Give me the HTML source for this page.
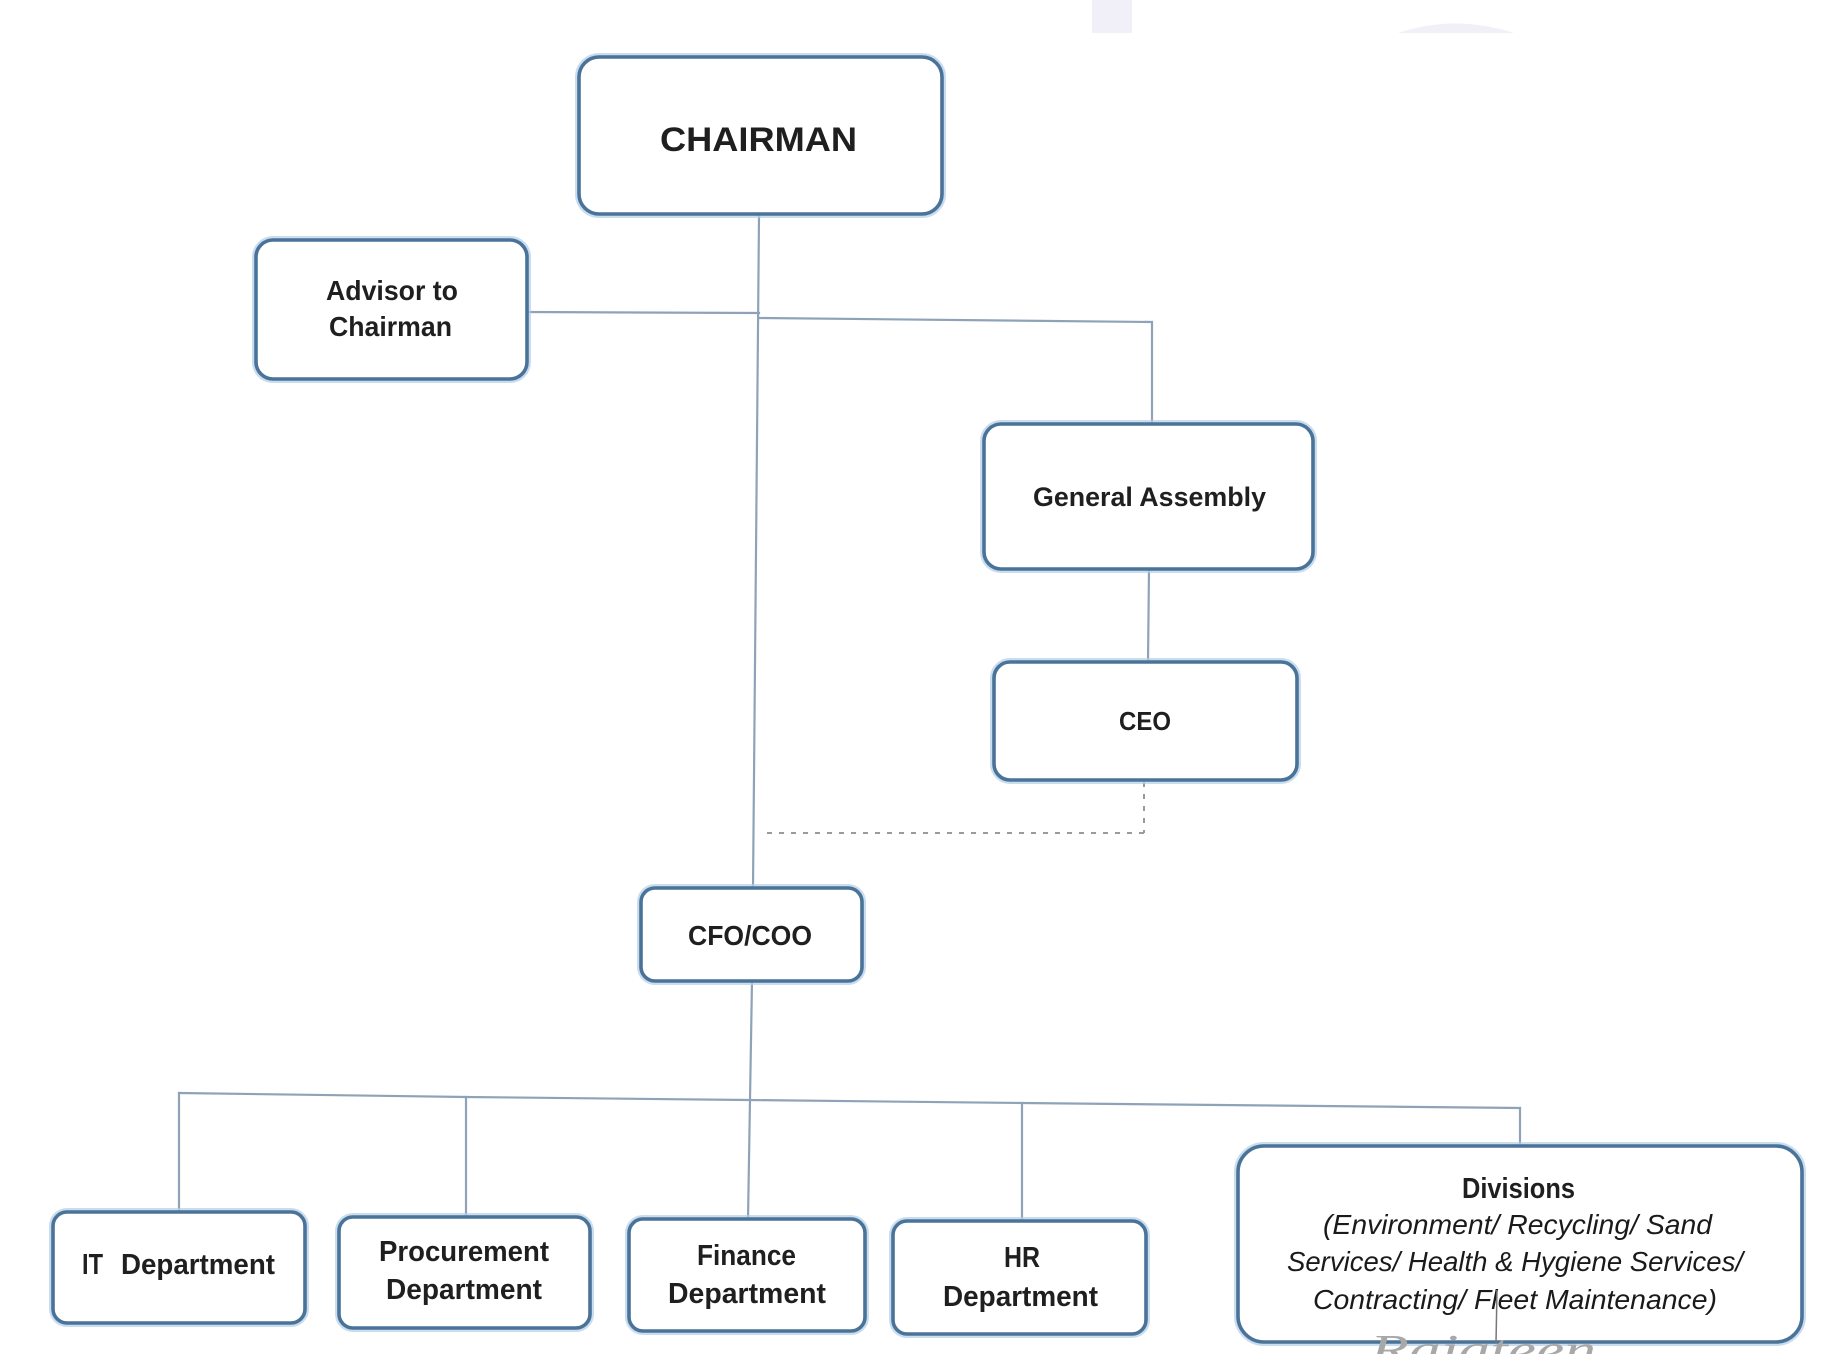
<!DOCTYPE html>
<html>
<head>
<meta charset="utf-8">
<style>
  html, body { margin: 0; padding: 0; background: #ffffff; }
  svg { display: block; }
  .t { font-family: "Liberation Sans", sans-serif; font-weight: bold; fill: #1f1f1f; }
  .ti { font-family: "Liberation Sans", sans-serif; font-style: italic; font-weight: normal; fill: #1a1a1a; }
</style>
</head>
<body>
<svg width="1845" height="1354" viewBox="0 0 1845 1354" xmlns="http://www.w3.org/2000/svg">
  <rect x="0" y="0" width="1845" height="1354" fill="#ffffff"/>

  <!-- faint scan artifacts top right -->
  <rect x="1092" y="0" width="40" height="33" fill="#f1eff8"/>
  <path d="M1398 33 Q1455 14 1514 33 Z" fill="#f1f0f8"/>

  <!-- connectors -->
  <g stroke="#8fa3b8" stroke-width="2.2" fill="none" stroke-linecap="square">
    <line x1="759" y1="216" x2="753" y2="888"/>
    <line x1="527" y1="312" x2="759" y2="313"/>
    <polyline points="759,318 1152,322 1152,424"/>
    <line x1="1149" y1="569" x2="1148" y2="662"/>
    <line x1="752" y1="981" x2="748" y2="1219"/>
    <polyline points="179,1093 466,1097 748,1100 1022,1103 1520,1108"/>
    <line x1="179" y1="1093" x2="179" y2="1212"/>
    <line x1="466" y1="1097" x2="466" y2="1217"/>
    <line x1="1022" y1="1103" x2="1022" y2="1221"/>
    <line x1="1520" y1="1108" x2="1520" y2="1146"/>
  </g>
  <!-- dashed CEO to CFO line -->
  <g stroke="#9a9a9a" stroke-width="2" fill="none" stroke-dasharray="5 7">
    <line x1="1144" y1="782" x2="1144" y2="833"/>
    <line x1="1144" y1="833" x2="762" y2="833"/>
  </g>

  <!-- boxes: halo -->
  <g fill="none" stroke="#b3cfe8" stroke-width="8" opacity="0.7">
    <rect x="579" y="57" width="363" height="157" rx="20"/>
    <rect x="256" y="240" width="271" height="139" rx="17"/>
    <rect x="984" y="424" width="329" height="145" rx="17"/>
    <rect x="994" y="662" width="303" height="118" rx="16"/>
    <rect x="641" y="888" width="221" height="93" rx="14"/>
    <rect x="53" y="1212" width="252" height="111" rx="14"/>
    <rect x="339" y="1217" width="251" height="111" rx="14"/>
    <rect x="629" y="1219" width="236" height="112" rx="14"/>
    <rect x="893" y="1221" width="253" height="113" rx="14"/>
    <rect x="1238" y="1146" width="564" height="196" rx="26"/>
  </g>
  <!-- boxes: main stroke -->
  <g fill="#ffffff" stroke="#4a7399" stroke-width="3.6">
    <rect x="579" y="57" width="363" height="157" rx="20"/>
    <rect x="256" y="240" width="271" height="139" rx="17"/>
    <rect x="984" y="424" width="329" height="145" rx="17"/>
    <rect x="994" y="662" width="303" height="118" rx="16"/>
    <rect x="641" y="888" width="221" height="93" rx="14"/>
    <rect x="53" y="1212" width="252" height="111" rx="14"/>
    <rect x="339" y="1217" width="251" height="111" rx="14"/>
    <rect x="629" y="1219" width="236" height="112" rx="14"/>
    <rect x="893" y="1221" width="253" height="113" rx="14"/>
    <rect x="1238" y="1146" width="564" height="196" rx="26"/>
  </g>

  <!-- labels -->
  <text class="t" x="660" y="151" font-size="34" textLength="197" lengthAdjust="spacingAndGlyphs">CHAIRMAN</text>

  <text class="t" x="326" y="300" font-size="28" textLength="132" lengthAdjust="spacingAndGlyphs">Advisor to</text>
  <text class="t" x="329" y="336" font-size="28" textLength="123" lengthAdjust="spacingAndGlyphs">Chairman</text>

  <text class="t" x="1033" y="506" font-size="27" textLength="233" lengthAdjust="spacingAndGlyphs">General Assembly</text>

  <text class="t" x="1119" y="730" font-size="26" textLength="52" lengthAdjust="spacingAndGlyphs">CEO</text>

  <text class="t" x="688" y="945" font-size="28" textLength="124" lengthAdjust="spacingAndGlyphs">CFO/COO</text>

  <text class="t" x="82" y="1274" font-size="29" textLength="21" lengthAdjust="spacingAndGlyphs">IT</text>
  <text class="t" x="121" y="1274" font-size="29" textLength="154" lengthAdjust="spacingAndGlyphs">Department</text>

  <text class="t" x="379" y="1261" font-size="29" textLength="170" lengthAdjust="spacingAndGlyphs">Procurement</text>
  <text class="t" x="386" y="1299" font-size="29" textLength="156" lengthAdjust="spacingAndGlyphs">Department</text>

  <text class="t" x="697" y="1265" font-size="29" textLength="99" lengthAdjust="spacingAndGlyphs">Finance</text>
  <text class="t" x="668" y="1303" font-size="29" textLength="158" lengthAdjust="spacingAndGlyphs">Department</text>

  <text class="t" x="1004" y="1267" font-size="29" textLength="36" lengthAdjust="spacingAndGlyphs">HR</text>
  <text class="t" x="943" y="1306" font-size="29" textLength="155" lengthAdjust="spacingAndGlyphs">Department</text>

  <text class="t" x="1462" y="1198" font-size="29" textLength="113" lengthAdjust="spacingAndGlyphs">Divisions</text>
  <text class="ti" x="1323" y="1234" font-size="28" textLength="389" lengthAdjust="spacingAndGlyphs">(Environment/ Recycling/ Sand</text>
  <text class="ti" x="1287" y="1271" font-size="28" textLength="456" lengthAdjust="spacingAndGlyphs">Services/ Health &amp; Hygiene Services/</text>
  <text class="ti" x="1313" y="1309" font-size="28" textLength="404" lengthAdjust="spacingAndGlyphs">Contracting/ Fleet Maintenance)</text>

  <!-- handwritten annotation -->
  <line x1="1497" y1="1290" x2="1496" y2="1343" stroke="#777" stroke-width="1.5"/>
  <text x="1370" y="1364" font-family="'Liberation Serif', serif" font-style="italic" font-size="42" fill="#a8a8a8" textLength="226" lengthAdjust="spacingAndGlyphs">Rajateen</text>
</svg>
</body>
</html>
